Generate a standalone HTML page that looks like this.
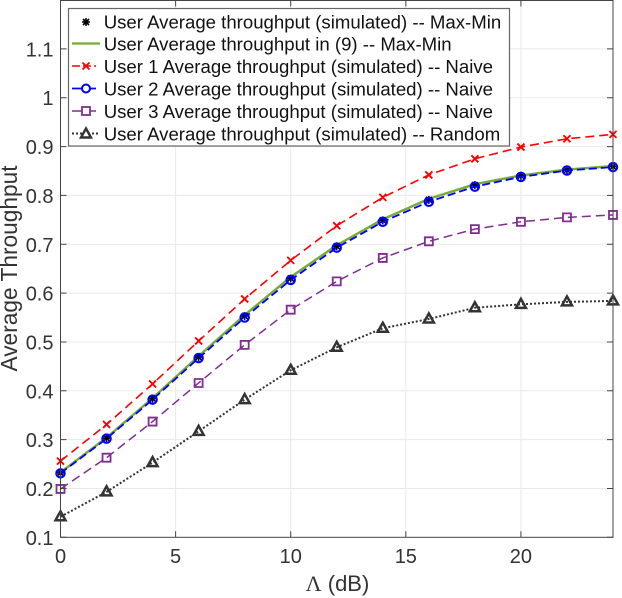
<!DOCTYPE html>
<html><head><meta charset="utf-8"><style>
html,body{margin:0;padding:0;background:#fff}
svg{display:block;font-family:"Liberation Sans",sans-serif;filter:blur(0.3px)}
</style></head><body>
<svg id="chart" width="622" height="598" viewBox="0 0 622 598" xmlns="http://www.w3.org/2000/svg">
<g id="grid"></g>
<g id="series"></g>
<g id="axes"></g>
<text x="337.5" y="591" text-anchor="middle" font-size="22" fill="#333"><tspan font-family="Liberation Serif">Λ</tspan> (dB)</text>
<text transform="translate(17,268.5) rotate(-90)" text-anchor="middle" font-size="22.7" fill="#333">Average Throughput</text>
<g>
<rect x="68.5" y="8.5" width="441" height="137.5" fill="#fff" stroke="#666" stroke-width="1.2"/>
<g>
<path d="M82 22H90M86 18V26M83 19L89 25M89 19L83 25" stroke="#000" stroke-width="1.6" fill="none"/>
<text x="103.700" y="28.300" font-size="18.6" fill="#111">User Average throughput (simulated) -- Max-Min</text></g>
<g>
<line x1="72" x2="100" y1="43.500" y2="43.500" stroke="#77ac30" stroke-width="2.200"/>
<text x="103.700" y="50.300" font-size="18.6" fill="#111">User Average throughput in (9) -- Max-Min</text></g>
<g>
<path d="M72 66H96" stroke="#f00" stroke-width="1.500" stroke-dasharray="8 3"/><path d="M82.500 62.500L89.500 69.500M89.500 62.500L82.500 69.500" stroke="#f00" stroke-width="1.800"/>
<text x="103.700" y="72.800" font-size="18.6" fill="#111">User 1 Average throughput (simulated) -- Naive</text></g>
<g>
<path d="M72 88.500H96" stroke="#00f" stroke-width="1.800"/><circle cx="86" cy="88.500" r="4" fill="#fff" stroke="#00f" stroke-width="2"/>
<text x="103.700" y="95.300" font-size="18.6" fill="#111">User 2 Average throughput (simulated) -- Naive</text></g>
<g>
<path d="M72 111H96" stroke="#7e2f8e" stroke-width="1.500"/><rect x="82" y="107" width="8" height="8" fill="#fff" stroke="#7e2f8e" stroke-width="1.800"/>
<text x="103.700" y="117.800" font-size="18.6" fill="#111">User 3 Average throughput (simulated) -- Naive</text></g>
<g>
<path d="M72 133.500H100" stroke="#333" stroke-width="2" stroke-dasharray="2 2"/><path d="M86 128.500L91 137.500H81Z" fill="#fff" stroke="#333" stroke-width="2.400"/>
<text x="103.700" y="140.300" font-size="18.6" fill="#111">User Average throughput (simulated) -- Random</text></g>
</g>
</svg>
<script>
const snrDb = [0,2,4,6,8,10,12,14,16,18,20,22,24];
const maxMinSimulated = [0.232,0.303,0.384,0.469,0.553,0.630,0.696,0.749,0.791,0.821,0.840,0.852,0.859];
const maxMinFormula = [0.233,0.304,0.385,0.471,0.555,0.633,0.698,0.751,0.793,0.823,0.841,0.853,0.860];
const user1Naive = [0.256,0.331,0.414,0.502,0.588,0.667,0.738,0.796,0.842,0.875,0.899,0.916,0.925];
const user2Naive = [0.231,0.302,0.382,0.467,0.550,0.627,0.693,0.746,0.787,0.818,0.838,0.851,0.858];
const user3Naive = [0.199,0.263,0.337,0.416,0.494,0.566,0.624,0.672,0.706,0.731,0.746,0.755,0.760];
const randomSched = [0.142,0.193,0.253,0.317,0.382,0.442,0.489,0.528,0.547,0.570,0.577,0.582,0.584];
const xTickLabels = [0,5,10,15,20];
const yTickLabels = ["0.1","0.2","0.3","0.4","0.5","0.6","0.7","0.8","0.9","1","1.1"];

const NS = 'http://www.w3.org/2000/svg';
const sx = v => 60.5 + v * (613 - 60.5) / 24;
const sy = v => 537.3 - (v - 0.1) * 488.4;
function mk(tag, attrs, parent){
  const e = document.createElementNS(NS, tag);
  for (const k in attrs) e.setAttribute(k, attrs[k]);
  parent.appendChild(e);
  return e;
}
const gridG = document.getElementById('grid');
const axesG = document.getElementById('axes');
const seriesG = document.getElementById('series');
const L = sx(0), R = sx(24), B = sy(0.1), T = 0.5;

xTickLabels.forEach(t => {
  const x = sx(t);
  if (t > 0) {
    const g = mk('line', {x1:x, x2:x, y1:T, y2:B, stroke:'#e9e9e9', 'stroke-width':1}, gridG);
    
    
  }
  const tk = mk('path', {d:`M${x} ${B}V${B-6}M${x} ${T}V${T+6}`, stroke:'#444', 'stroke-width':1}, axesG);
  
  
  const lb = mk('text', {x:x, y:563, 'text-anchor':'middle', 'font-size':20, fill:'#333'}, axesG);
  
  
  lb.textContent = t;
});
yTickLabels.forEach(t => {
  const y = sy(parseFloat(t));
  if (t !== '0.1') {
    const g = mk('line', {x1:L, x2:R, y1:y, y2:y, stroke:'#e9e9e9', 'stroke-width':1}, gridG);
    
    
  }
  const tk = mk('path', {d:`M${L} ${y}H${L+6}M${R} ${y}H${R-6}`, stroke:'#444', 'stroke-width':1}, axesG);
  
  
  const lb = mk('text', {x:53.500, y:y+7.500, 'text-anchor':'end', 'font-size':20, fill:'#333'}, axesG);
  
  
  lb.textContent = t;
});
const frame = mk('rect', {x:L, y:T, width:R-L, height:B-T, fill:'none', stroke:'#444', 'stroke-width':1}, axesG);



function linePath(vals){
  return vals.map((v,i) => (i ? 'L' : 'M') + sx(snrDb[i]).toFixed(2) + ' ' + sy(v).toFixed(2)).join('');
}
function drawLine(vals, stroke, width, dash, name){
  const p = mk('path', {d:linePath(vals), fill:'none', stroke:stroke, 'stroke-width':width}, seriesG);
  if (dash) p.setAttribute('stroke-dasharray', dash);
  
  
}
function drawMarks(vals, stroke, width, fill, name, shape){
  vals.forEach((v,i) => {
    const p = mk('path', {d:shape(sx(snrDb[i]), sy(v)), fill:fill, stroke:stroke, 'stroke-width':width}, seriesG);
    
    
  });
}
const star = (x,y) => `M${x-4} ${y}H${x+4}M${x} ${y-4}V${y+4}M${x-3} ${y-3}L${x+3} ${y+3}M${x+3} ${y-3}L${x-3} ${y+3}`;
const cross = (x,y) => `M${x-3.5} ${y-3.5}L${x+3.5} ${y+3.5}M${x+3.5} ${y-3.5}L${x-3.5} ${y+3.5}`;
const circle = (x,y) => `M${x-4.2} ${y}A4.2 4.2 0 1 0 ${x+4.2} ${y}A4.2 4.2 0 1 0 ${x-4.2} ${y}Z`;
const square = (x,y) => `M${x-4} ${y-4}H${x+4}V${y+4}H${x-4}Z`;
const tri = (x,y) => `M${x} ${y-5.500}L${x+5} ${y+3.500}H${x-5}Z`;

drawLine(maxMinFormula, '#77ac30', 2.400, null, 'max-min-formula-line');
drawMarks(maxMinSimulated, '#000', 1.500, 'none', 'max-min-simulated-point', star);
drawLine(user1Naive, '#f00', 1.600, '9 5', 'user-1-naive-line');
drawMarks(user1Naive, '#f00', 1.900, 'none', 'user-1-naive-point', cross);
drawLine(user2Naive, '#00f', 1.800, '8 4', 'user-2-naive-line');
drawMarks(user2Naive, '#00f', 2.100, 'none', 'user-2-naive-point', circle);
drawLine(user3Naive, '#7e2f8e', 1.500, '9 5', 'user-3-naive-line');
drawMarks(user3Naive, '#7e2f8e', 1.800, 'none', 'user-3-naive-point', square);
drawLine(randomSched, '#333', 2, '2 2', 'random-line');
drawMarks(randomSched, '#333', 2.500, 'none', 'random-point', tri);
</script>
</body></html>
